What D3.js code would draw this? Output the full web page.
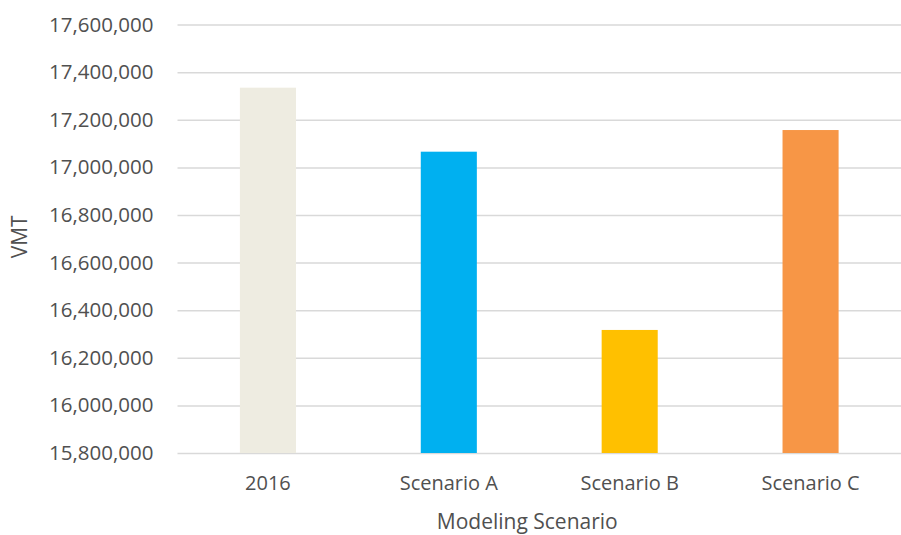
<!DOCTYPE html>
<html>
<head>
<meta charset="utf-8">
<script src="https://cdn.jsdelivr.net/npm/d3@7"></script>
<style>
    body { margin: 0; background: #fff; }
    text { font-family: "Open Sans", sans-serif; fill: #505050; }
</style>
</head>
<body>
<script>
// data
const scenarios = ["2016", "Scenario A", "Scenario B", "Scenario C"];
const vmt = [17335000, 17066000, 16317000, 17157000];
const barColors = ["#eeece1", "#00b0f0", "#ffc000", "#f79646"];
const yTicks = [15800000, 16000000, 16200000, 16400000, 16600000, 16800000, 17000000, 17200000, 17400000, 17600000];

const width = 901, height = 535;
const margin = { top: 24.6, right: 0, bottom: 82, left: 177.5 };
const innerW = width - margin.left - margin.right;
const innerH = height - margin.top - margin.bottom;

const data = scenarios.map((s, i) => ({ name: s, value: vmt[i], color: barColors[i] }));

const svg = d3.select('body').append('svg')
    .attr('width', width)
    .attr('height', height)
    .append('g')
    .attr('transform', `translate(${margin.left}, ${margin.top})`);

const y = d3.scaleLinear()
    .domain([15800000, 17600000])
    .range([innerH, 0]);

const x = d3.scaleBand()
    .domain(scenarios)
    .range([0, innerW])
    .paddingInner(0.69)
    .paddingOuter(0.345);

// gridlines + tick labels
const yAxis = svg.append("g")
    .call(d3.axisLeft(y)
        .tickValues(yTicks)
        .tickFormat(d3.format(","))
        .tickSize(-innerW)
        .tickPadding(24));
yAxis.select(".domain").remove();
yAxis.selectAll(".tick line").attr("stroke", "#d9d9d9").attr("stroke-width", 1.5);
yAxis.selectAll(".tick text")
    .style("font-size", "20.5px")
    .style("font-family", "'Open Sans', sans-serif")
    .attr("fill", "#505050");

// bars
svg.selectAll("rect.bar")
    .data(data)
    .enter()
    .append("rect")
    .attr("class", "bar")
    .attr("x", d => x(d.name))
    .attr("y", d => y(d.value))
    .attr("width", x.bandwidth())
    .attr("height", d => innerH - y(d.value))
    .attr("fill", d => d.color);

// category labels
const xAxis = svg.append("g")
    .attr("transform", `translate(0, ${innerH})`)
    .call(d3.axisBottom(x).tickSize(0).tickPadding(23));
xAxis.select(".domain").remove();
xAxis.selectAll(".tick text")
    .style("font-size", "20px")
    .style("font-family", "'Open Sans', sans-serif")
    .attr("fill", "#505050");

// axis titles
svg.append("text")
    .attr("x", innerW / 2 - 12)
    .attr("y", innerH + 76)
    .attr("text-anchor", "middle")
    .style("font-size", "21px")
    .text("Modeling Scenario");

svg.append("text")
    .attr("transform", `translate(${-margin.left + 27}, ${innerH / 2 - 2}) rotate(-90)`)
    .attr("text-anchor", "middle")
    .style("font-size", "21px")
    .text("VMT");
</script>
</body>
</html>
